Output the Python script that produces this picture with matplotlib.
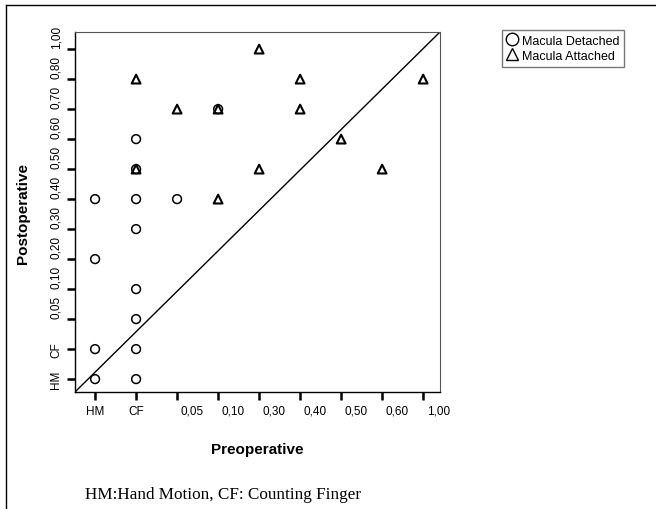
import matplotlib
matplotlib.use("Agg")
import matplotlib.pyplot as plt
import matplotlib.transforms as mtransforms
from matplotlib.lines import Line2D

# category axes (ordinal visual acuity scale)
pre_cats = ['HM', 'CF', '0,05', '0,10', '0,30', '0,40', '0,50', '0,60', '1,00']
post_cats = ['HM', 'CF', '0,05', '0,10', '0,20', '0,30', '0,40', '0,50',
             '0,60', '0,70', '0,80', '1,00']

# Macula detached (circles)
det_pre = ['HM', 'CF', '0,05', 'CF', 'HM', 'CF', 'CF', 'HM', 'CF', 'HM', 'CF',
           'CF', 'CF', '0,10']
det_post = ['0,40', '0,40', '0,40', '0,30', '0,20', '0,10', '0,05', 'CF', 'CF',
            'HM', 'HM', '0,60', '0,50', '0,70']

# Macula attached (triangles)
att_pre = ['0,30', 'CF', '0,40', '1,00', '0,05', '0,10', '0,40', '0,50', 'CF',
           '0,30', '0,60', '0,10']
att_post = ['1,00', '0,80', '0,80', '0,80', '0,70', '0,70', '0,70', '0,60',
            '0,50', '0,50', '0,50', '0,40']

caption = "HM:Hand Motion, CF: Counting Finger"

plt.rcParams['font.family'] = ['Liberation Sans', 'DejaVu Sans']

fig = plt.figure(figsize=(6.56, 5.10), dpi=100)
ax = fig.add_axes([0.1143, 0.2294, 0.5564, 0.7059])

xd = [pre_cats.index(v) for v in det_pre]
yd = [post_cats.index(v) for v in det_post]
xa = [pre_cats.index(v) for v in att_pre]
ya = [post_cats.index(v) for v in att_post]

ax.scatter(xd, yd, s=40, marker='o', facecolors='none', edgecolors='black',
           linewidths=1.1, zorder=3)
ax.scatter(xa, ya, s=40, marker='^', facecolors='none', edgecolors='black',
           linewidths=1.5, zorder=3)

# reference diagonal corner to corner
ax.plot([0, 1], [0, 1], transform=ax.transAxes, color='black', lw=1.0)

ax.set_xlim(-0.49, 8.41)
ax.set_ylim(-0.43, 11.57)

ax.set_xticks(range(len(pre_cats)))
ax.set_xticklabels(pre_cats, fontsize=8.5)
ax.set_yticks(range(len(post_cats)))
ax.set_yticklabels(post_cats, fontsize=8.5, rotation=90, va='center')
ax.tick_params(direction='out', length=6, width=1.8, pad=3)

# numeric labels sit shifted off their tick marks in the original
for lab in ax.get_xticklabels()[2:]:
    lab.set_transform(lab.get_transform() +
                      mtransforms.ScaledTranslation(0.15, 0, fig.dpi_scale_trans))
for lab in ax.get_yticklabels()[2:]:
    lab.set_transform(lab.get_transform() +
                      mtransforms.ScaledTranslation(0, 0.13, fig.dpi_scale_trans))

for side in ['top', 'right']:
    ax.spines[side].set_color('#555555')
    ax.spines[side].set_linewidth(0.8)
for side in ['left', 'bottom']:
    ax.spines[side].set_linewidth(1.0)

ax.set_xlabel("Preoperative", fontsize=11, fontweight='bold')
ax.set_ylabel("Postoperative", fontsize=11, fontweight='bold')
ax.xaxis.set_label_coords(0.5, -0.139)
ax.yaxis.set_label_coords(-0.123, 0.5)

handles = [Line2D([], [], marker='o', ls='none', mfc='none', mec='black', ms=9),
           Line2D([], [], marker='^', ls='none', mfc='none', mec='black', ms=9)]
fig.legend(handles, ['Macula Detached', 'Macula Attached'], loc='upper left',
           bbox_to_anchor=(0.765, 0.94), fontsize=9, frameon=True, fancybox=False,
           edgecolor='#555555', handlelength=0.9, handletextpad=0.3,
           borderpad=0.4, labelspacing=0.25, borderaxespad=0)

fig.text(0.13, 0.03, caption, fontsize=12.3, family='Liberation Serif',
         va='center', ha='left')

# page border lines
fig.add_artist(Line2D([0.009, 0.009], [0, 0.988], transform=fig.transFigure,
                      color='black', lw=1.0))
fig.add_artist(Line2D([0.009, 1], [0.988, 0.988], transform=fig.transFigure,
                      color='black', lw=1.0))

fig.savefig("out.png", dpi=100)
